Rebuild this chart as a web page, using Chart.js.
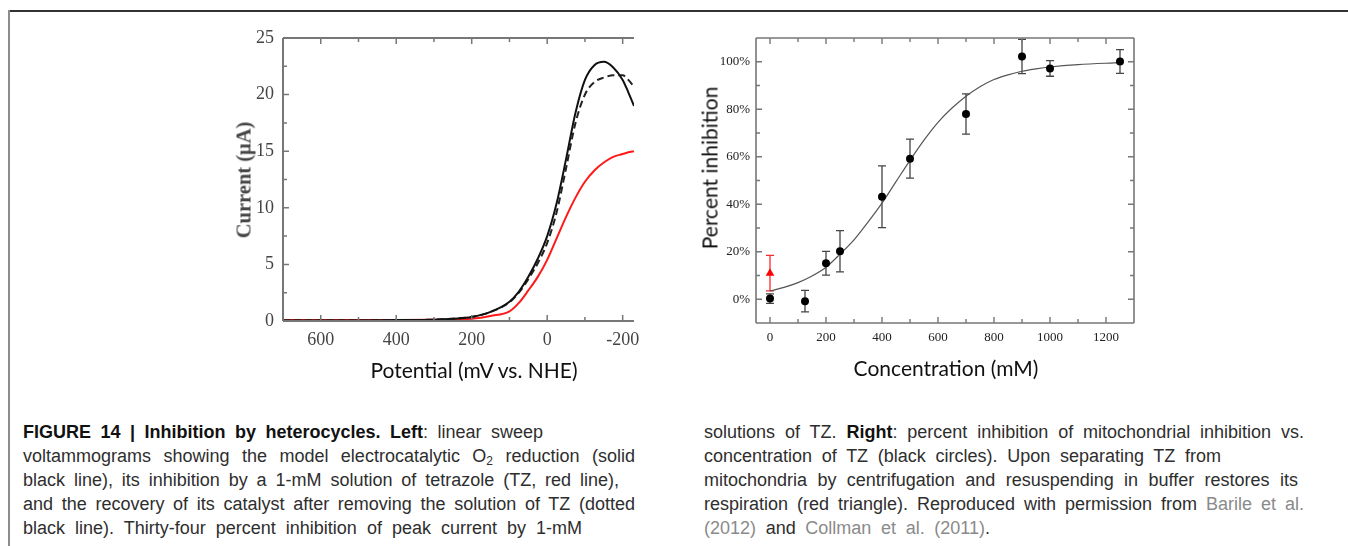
<!DOCTYPE html>
<html>
<head>
<meta charset="utf-8">
<script src="https://cdn.jsdelivr.net/npm/chart.js@4.4.1/dist/chart.umd.min.js"></script>
<style>
  html, body { margin: 0; padding: 0; background: #fff; }
  #page { position: relative; width: 1348px; height: 546px; overflow: hidden; }
  .rule-top { position: absolute; left: 9px; top: 10px; width: 1339px; height: 2px; background: #333; }
  .rule-left { position: absolute; left: 8px; top: 10px; width: 2px; height: 536px; background: #8c8c8c; }
  canvas { position: absolute; }
  .axt { position: absolute; white-space: nowrap; transform: translate(-50%, -50%); font-family: Lato, "Open Sans", sans-serif; color: #111; }
  .axt.rot { transform: translate(-50%, -50%) rotate(-90deg); }
  .caption { position: absolute; top: 420px; font-family: "Liberation Sans", Arial, sans-serif; font-size: 18px; color: #2e2e2e; }
  .caption .ln { height: 24px; line-height: 24px; white-space: nowrap; text-align: justify; text-align-last: justify; }
  .caption b { color: #111; }
  .caption .ref { color: #8a8a8a; }
  .caption sub { font-size: 12px; vertical-align: -3px; line-height: 0; }
</style>
</head>
<body>
<div id="page">
  <div class="rule-top"></div>
  <div class="rule-left"></div>

  <canvas id="lsvChart" width="460" height="360" style="left:190px; top:10px; width:460px; height:360px;"></canvas>
  <canvas id="inhibChart" width="470" height="360" style="left:690px; top:10px; width:470px; height:360px;"></canvas>

  <div class="axt rot" style="left:244px; top:180px; font-family:'Liberation Serif', serif; font-weight:bold; font-size:20.5px; color:#444;">Current (μA)</div>
  <div class="axt" style="left:474px; top:369px; font-size:21px;">Potential (mV vs. NHE)</div>
  <div class="axt rot" style="left:709px; top:168px; font-size:21px;">Percent inhibition</div>
  <div class="axt" style="left:946px; top:367px; font-size:21px;">Concentration (mM)</div>

  <div class="caption" style="left:23px;">
    <div class="ln" style="width:520px;"><b>FIGURE 14 | Inhibition by heterocycles. Left</b>: linear sweep</div>
    <div class="ln" style="width:612px;">voltammograms showing the model electrocatalytic O<sub>2</sub> reduction (solid</div>
    <div class="ln" style="width:596px;">black line), its inhibition by a 1-mM solution of tetrazole (TZ, red line),</div>
    <div class="ln" style="width:612px;">and the recovery of its catalyst after removing the solution of TZ (dotted</div>
    <div class="ln" style="width:559px;">black line). Thirty-four percent inhibition of peak current by 1-mM</div>
  </div>
  <div class="caption" style="left:704px;">
    <div class="ln" style="width:600px;">solutions of TZ. <b>Right</b>: percent inhibition of mitochondrial inhibition vs.</div>
    <div class="ln" style="width:517px;">concentration of TZ (black circles). Upon separating TZ from</div>
    <div class="ln" style="width:594px;">mitochondria by centrifugation and resuspending in buffer restores its</div>
    <div class="ln" style="width:600px;">respiration (red triangle). Reproduced with permission from <span class="ref">Barile et al.</span></div>
    <div class="ln" style="width:286px;"><span class="ref">(2012)</span> and <span class="ref">Collman et al. (2011)</span>.</div>
  </div>
</div>

<script>
  // left panel: linear sweep voltammograms (mV vs NHE, current in µA)
  const potentials = [700, 600, 500, 400, 300, 250, 200, 150, 100, 75, 50, 25, 0, -25, -50, -75, -100, -125, -150, -175, -200, -215, -230];
  const currentCatalyst = [0.05, 0.05, 0.05, 0.08, 0.12, 0.2, 0.35, 0.8, 1.7, 2.6, 3.9, 5.5, 7.5, 10.4, 14.3, 18.4, 21.3, 22.6, 22.9, 22.4, 21.3, 20.2, 19.0];
  const currentRecovered = [0.05, 0.05, 0.05, 0.08, 0.12, 0.2, 0.35, 0.8, 1.65, 2.5, 3.7, 5.1, 6.9, 9.6, 13.5, 17.5, 20.0, 21.1, 21.5, 21.7, 21.7, 21.3, 20.7];
  const currentTZ = [0.08, 0.08, 0.08, 0.08, 0.1, 0.12, 0.2, 0.45, 0.85, 1.6, 2.7, 3.9, 5.4, 7.3, 9.2, 10.9, 12.3, 13.3, 14.0, 14.5, 14.75, 14.9, 15.0];
  const potentialTicks = [600, 400, 200, 0, -200];
  const potentialMinor = [500, 300, 100, -100];
  const currentTicks = [0, 5, 10, 15, 20, 25];
  const currentMinor = [2.5, 7.5, 12.5, 17.5, 22.5];

  // right panel: percent inhibition vs TZ concentration (mM)
  const concentration = [0, 125, 200, 250, 400, 500, 700, 900, 1000, 1250];
  const inhibition = [0.3, -0.8, 15.2, 20.2, 43.2, 59.2, 78, 102.2, 97.2, 100.1];
  const inhibitionErr = [2, 4.5, 5, 8.7, 13, 8.2, 8.5, 7.2, 3.3, 5];
  const restoredConc = [0];
  const restoredInhibition = [11];
  const restoredErr = [7.5];
  const fitConc = [0, 50, 100, 150, 200, 250, 300, 350, 400, 450, 500, 550, 600, 650, 700, 750, 800, 850, 900, 950, 1000, 1100, 1250];
  const fitInhibition = [3.5, 5, 7, 9.8, 13.5, 19, 25, 32.5, 40.5, 49.5, 58.5, 67, 74.5, 80.5, 85.5, 89.5, 92.5, 94.5, 96, 97, 97.8, 98.8, 99.6];
  const concTicks = [0, 200, 400, 600, 800, 1000, 1200];
  const concMinor = [100, 300, 500, 700, 900, 1100];
  const percentTicks = [0, 20, 40, 60, 80, 100];
  const percentMinor = [10, 30, 50, 70, 90];

  const serif = '"Liberation Serif", "Times New Roman", serif';

  const toPoints = (xs, ys) => xs.map((x, i) => ({ x, y: ys[i] }));
  const fixedTicks = (values) => (scale) => {
    scale.ticks = values.map((value) => ({ value }));
  };

  // box frame with inward tick marks on the chosen sides
  const framePlugin = {
    id: 'frame',
    afterDraw(chart, args, opts) {
      const { ctx, chartArea: a, scales } = chart;
      const xs = scales.x;
      const ys = scales.y;
      const xMajor = xs.ticks.map((t) => t.value);
      const yMajor = ys.ticks.map((t) => t.value);

      ctx.save();
      ctx.strokeStyle = opts.color;
      ctx.lineWidth = opts.width;
      ctx.beginPath();
      opts.sides.forEach((side) => {
        if (side === 'left') { ctx.moveTo(a.left, a.top); ctx.lineTo(a.left, a.bottom); }
        if (side === 'right') { ctx.moveTo(a.right, a.top); ctx.lineTo(a.right, a.bottom); }
        if (side === 'top') { ctx.moveTo(a.left, a.top); ctx.lineTo(a.right, a.top); }
        if (side === 'bottom') { ctx.moveTo(a.left, a.bottom); ctx.lineTo(a.right, a.bottom); }
      });
      ctx.stroke();

      ctx.lineWidth = opts.tickWidth;
      ctx.beginPath();
      const xMark = (vals, len) => vals.forEach((v) => {
        const px = xs.getPixelForValue(v);
        if (opts.sides.includes('top')) { ctx.moveTo(px, a.top); ctx.lineTo(px, a.top + len); }
        if (opts.sides.includes('bottom')) { ctx.moveTo(px, a.bottom); ctx.lineTo(px, a.bottom - len); }
      });
      const yMark = (vals, len) => vals.forEach((v) => {
        const py = ys.getPixelForValue(v);
        if (opts.sides.includes('left')) { ctx.moveTo(a.left, py); ctx.lineTo(a.left + len, py); }
        if (opts.sides.includes('right')) { ctx.moveTo(a.right, py); ctx.lineTo(a.right - len, py); }
      });
      xMark(xMajor, opts.major);
      xMark(opts.xMinor, opts.minor);
      yMark(yMajor, opts.major);
      yMark(opts.yMinor, opts.minor);
      ctx.stroke();
      ctx.restore();
    },
  };

  const errorBarPlugin = {
    id: 'errorBars',
    beforeDatasetsDraw(chart) {
      const { ctx, scales: { x, y } } = chart;
      chart.data.datasets.forEach((ds, i) => {
        if (!ds.errors || !chart.isDatasetVisible(i)) return;
        ctx.save();
        ctx.strokeStyle = ds.errorColor;
        ctx.lineWidth = 1.3;
        ds.data.forEach((p, j) => {
          const px = x.getPixelForValue(p.x);
          const top = y.getPixelForValue(p.y + ds.errors[j]);
          const bot = y.getPixelForValue(p.y - ds.errors[j]);
          ctx.beginPath();
          ctx.moveTo(px, top); ctx.lineTo(px, bot);
          ctx.moveTo(px - 4, top); ctx.lineTo(px + 4, top);
          ctx.moveTo(px - 4, bot); ctx.lineTo(px + 4, bot);
          ctx.stroke();
        });
        ctx.restore();
      });
    },
  };

  const plainNumber = (v) => String(v);

  new Chart(document.getElementById('lsvChart'), {
    type: 'line',
    data: {
      datasets: [
        {
          label: 'O2 reduction',
          data: toPoints(potentials, currentCatalyst),
          borderColor: '#111',
          borderWidth: 2,
          pointRadius: 0,
          cubicInterpolationMode: 'monotone',
        },
        {
          label: 'after removing TZ',
          data: toPoints(potentials, currentRecovered),
          borderColor: '#222',
          borderWidth: 2,
          borderDash: [7, 4],
          pointRadius: 0,
          cubicInterpolationMode: 'monotone',
        },
        {
          label: '1-mM TZ',
          data: toPoints(potentials, currentTZ),
          borderColor: '#ff1a1a',
          borderWidth: 2,
          pointRadius: 0,
          cubicInterpolationMode: 'monotone',
        },
      ],
    },
    options: {
      responsive: false,
      animation: false,
      layout: { padding: { top: 28, right: 16, left: 0, bottom: 0 } },
      plugins: {
        legend: { display: false },
        tooltip: { enabled: false },
        frame: {
          sides: ['left', 'top', 'bottom'],
          color: '#777',
          width: 2,
          tickWidth: 1.5,
          major: 6,
          minor: 4,
          xMinor: potentialMinor,
          yMinor: currentMinor,
        },
      },
      scales: {
        x: {
          type: 'linear',
          reverse: true,
          min: -230,
          max: 700,
          afterBuildTicks: fixedTicks(potentialTicks),
          afterFit: (s) => { s.height = 49; },
          grid: { display: false, drawTicks: false },
          border: { display: false },
          ticks: { font: { family: serif, size: 18 }, color: '#444', padding: 8, maxRotation: 0, autoSkip: false, callback: plainNumber },
        },
        y: {
          type: 'linear',
          min: 0,
          max: 25,
          afterBuildTicks: fixedTicks(currentTicks),
          afterFit: (s) => { s.width = 93; },
          grid: { display: false, drawTicks: false },
          border: { display: false },
          ticks: { font: { family: serif, size: 18 }, color: '#444', padding: 9, autoSkip: false, callback: plainNumber },
        },
      },
    },
    plugins: [framePlugin],
  });

  new Chart(document.getElementById('inhibChart'), {
    type: 'scatter',
    data: {
      datasets: [
        {
          label: 'TZ',
          data: toPoints(concentration, inhibition),
          errors: inhibitionErr,
          errorColor: '#444',
          backgroundColor: '#000',
          borderWidth: 0,
          pointRadius: 4,
        },
        {
          label: 'restored',
          data: toPoints(restoredConc, restoredInhibition),
          errors: restoredErr,
          errorColor: '#ff2a2a',
          backgroundColor: '#ff0000',
          borderWidth: 0,
          pointStyle: 'triangle',
          pointRadius: 5,
        },
        {
          label: 'fit',
          data: toPoints(fitConc, fitInhibition),
          showLine: true,
          borderColor: '#555',
          borderWidth: 1.2,
          pointRadius: 0,
          cubicInterpolationMode: 'monotone',
        },
      ],
    },
    options: {
      responsive: false,
      animation: false,
      layout: { padding: { top: 28, right: 26, left: 0, bottom: 0 } },
      plugins: {
        legend: { display: false },
        tooltip: { enabled: false },
        frame: {
          sides: ['left', 'top', 'bottom', 'right'],
          color: '#777',
          width: 1.6,
          tickWidth: 1.4,
          major: 6,
          minor: 4,
          xMinor: concMinor,
          yMinor: percentMinor,
        },
      },
      scales: {
        x: {
          type: 'linear',
          min: -50,
          max: 1300,
          afterBuildTicks: fixedTicks(concTicks),
          afterFit: (s) => { s.height = 47; },
          grid: { display: false, drawTicks: false },
          border: { display: false },
          ticks: { font: { family: serif, size: 13 }, color: '#222', padding: 7, maxRotation: 0, autoSkip: false, callback: plainNumber },
        },
        y: {
          type: 'linear',
          min: -10,
          max: 110,
          afterBuildTicks: fixedTicks(percentTicks),
          afterFit: (s) => { s.width = 66; },
          grid: { display: false, drawTicks: false },
          border: { display: false },
          ticks: {
            font: { family: serif, size: 13 },
            color: '#222',
            padding: 6,
            autoSkip: false,
            callback: (v) => `${v}%`,
          },
        },
      },
    },
    plugins: [framePlugin, errorBarPlugin],
  });
</script>
</body>
</html>
